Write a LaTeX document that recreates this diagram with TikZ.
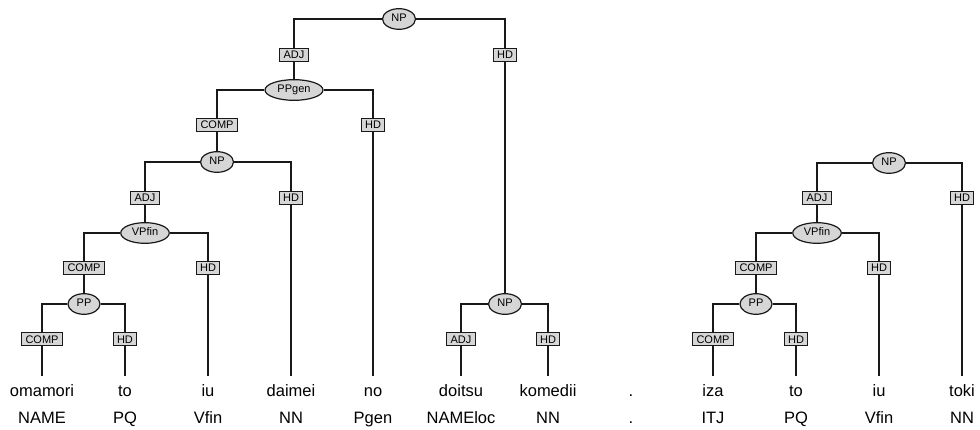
\documentclass[tikz,border=0pt]{standalone}
\usepackage{fontspec}
\setmainfont{Liberation Sans}
\usetikzlibrary{shapes.geometric}
\begin{document}
\begin{tikzpicture}[x=1pt,y=-1pt,
  lbl/.style={draw=black!90,fill=black!16,line width=1.2pt,font=\fontsize{11}{12}\selectfont,inner xsep=3.8pt,inner ysep=2.4pt,text height=8pt,text depth=0pt},
  cat/.style={ellipse,draw=black!90,fill=black!16,line width=1.2pt,font=\fontsize{11}{12}\selectfont,inner xsep=4pt,inner ysep=2.3pt,text height=8pt,text depth=2pt},
  word/.style={font=\fontsize{16.5}{18}\selectfont,anchor=base,inner xsep=0pt,inner ysep=10pt,text height=10pt,text depth=0pt},
  postag/.style={font=\fontsize{16.5}{18}\selectfont,anchor=base,inner sep=0pt},
  conn/.style={draw=black!90,line width=1.2pt}]
\useasboundingbox (0,0) rectangle (980,430);
% words and POS
\foreach \n/\x/\w/\p in {1/42/omamori/NAME,2/125/to/PQ,3/208/iu/Vfin,4/291/daimei/NN,5/373/no/Pgen,6/461/doitsu/NAMEloc,7/548/komedii/NN,8/631/./.,9/713/iza/ITJ,10/796/to/PQ,11/879/iu/Vfin,12/962/toki/NN}{
  \node[word] (w\n) at (\x,396) {\w};
  \node[postag] (p\n) at (\x,423) {\p};
}
% tree 1
\node[cat] (np1) at (399,19) {NP};
\node[lbl] (adj1) at (294,55) {ADJ};
\node[lbl] (hd1) at (505,55) {HD};
\node[cat] (ppgen) at (294,90) {PPgen};
\node[lbl] (comp2) at (217,125) {COMP};
\node[lbl] (hd2) at (373,125) {HD};
\node[cat] (np2) at (217,162) {NP};
\node[lbl] (adj3) at (145,198) {ADJ};
\node[lbl] (hd3) at (291,198) {HD};
\node[cat] (vp1) at (145,233) {VPfin};
\node[lbl] (comp4) at (84,268) {COMP};
\node[lbl] (hd4) at (208,268) {HD};
\node[cat] (pp1) at (84,304) {PP};
\node[lbl] (comp5) at (42,339) {COMP};
\node[lbl] (hd5) at (125,339) {HD};
\node[cat] (np3) at (505,304) {NP};
\node[lbl] (adj6) at (461,339) {ADJ};
\node[lbl] (hd6) at (548,339) {HD};
% tree 2
\node[cat] (np4) at (889,163) {NP};
\node[lbl] (adj7) at (817,198) {ADJ};
\node[lbl] (hd7) at (962,198) {HD};
\node[cat] (vp2) at (817,233) {VPfin};
\node[lbl] (comp8) at (756,268) {COMP};
\node[lbl] (hd8) at (879,268) {HD};
\node[cat] (pp2) at (756,304) {PP};
\node[lbl] (comp9) at (713,339) {COMP};
\node[lbl] (hd9) at (796,339) {HD};
% connectors
\draw[conn] (np1.west) -| (adj1.north);
\draw[conn] (np1.east) -| (hd1.north);
\draw[conn] (adj1.south) -- (ppgen.north);
\draw[conn] (hd1.south) -- (np3.north);
\draw[conn] (ppgen.west) -| (comp2.north);
\draw[conn] (ppgen.east) -| (hd2.north);
\draw[conn] (comp2.south) -- (np2.north);
\draw[conn] (hd2.south) -- (w5.north);
\draw[conn] (np2.west) -| (adj3.north);
\draw[conn] (np2.east) -| (hd3.north);
\draw[conn] (adj3.south) -- (vp1.north);
\draw[conn] (hd3.south) -- (w4.north);
\draw[conn] (vp1.west) -| (comp4.north);
\draw[conn] (vp1.east) -| (hd4.north);
\draw[conn] (comp4.south) -- (pp1.north);
\draw[conn] (hd4.south) -- (w3.north);
\draw[conn] (pp1.west) -| (comp5.north);
\draw[conn] (pp1.east) -| (hd5.north);
\draw[conn] (comp5.south) -- (w1.north);
\draw[conn] (hd5.south) -- (w2.north);
\draw[conn] (np3.west) -| (adj6.north);
\draw[conn] (np3.east) -| (hd6.north);
\draw[conn] (adj6.south) -- (w6.north);
\draw[conn] (hd6.south) -- (w7.north);
\draw[conn] (np4.west) -| (adj7.north);
\draw[conn] (np4.east) -| (hd7.north);
\draw[conn] (adj7.south) -- (vp2.north);
\draw[conn] (hd7.south) -- (w12.north);
\draw[conn] (vp2.west) -| (comp8.north);
\draw[conn] (vp2.east) -| (hd8.north);
\draw[conn] (comp8.south) -- (pp2.north);
\draw[conn] (hd8.south) -- (w11.north);
\draw[conn] (pp2.west) -| (comp9.north);
\draw[conn] (pp2.east) -| (hd9.north);
\draw[conn] (comp9.south) -- (w9.north);
\draw[conn] (hd9.south) -- (w10.north);
\end{tikzpicture}
\end{document}
